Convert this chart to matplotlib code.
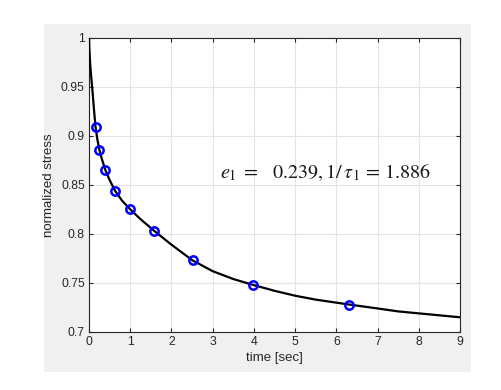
import numpy as np
import matplotlib
matplotlib.use("Agg")
import matplotlib.pyplot as plt
from matplotlib.patches import Rectangle

# measured points (log spaced times)
t_data = [0.158, 0.251, 0.398, 0.631, 1.0, 1.585, 2.512, 3.981, 6.310]
s_data = [0.909, 0.886, 0.865, 0.844, 0.825, 0.803, 0.773, 0.748, 0.728]

# fitted curve
t_fit = [0, 0.01, 0.03, 0.05, 0.08, 0.12, 0.158, 0.2, 0.251, 0.3, 0.398, 0.5,
         0.631, 0.8, 1.0, 1.25, 1.585, 2.0, 2.512, 3.0, 3.5, 3.981, 4.5, 5.0,
         5.5, 6.31, 7.0, 7.5, 8.0, 8.5, 9.0]
s_fit = [1.0, 0.988, 0.972, 0.962, 0.948, 0.927, 0.909, 0.897, 0.886, 0.878,
         0.865, 0.855, 0.844, 0.834, 0.825, 0.815, 0.803, 0.789, 0.773, 0.762,
         0.754, 0.748, 0.742, 0.737, 0.733, 0.728, 0.724, 0.721, 0.719, 0.717,
         0.715]

xticks = list(range(0, 10))
yticks = [0.7, 0.75, 0.8, 0.85, 0.9, 0.95, 1]
ytick_labels = ["0.7", "0.75", "0.8", "0.85", "0.9", "0.95", "1"]

plt.rcParams['font.family'] = ['Liberation Sans', 'DejaVu Sans']
plt.rcParams['mathtext.fontset'] = 'stix'
grey = '#262626'

fig = plt.figure(figsize=(5.01, 3.9), dpi=100)
fig.patch.set_facecolor('white')
# matlab style grey panel
fig.patches.append(Rectangle((44 / 501, 18 / 390), 427 / 501, 348 / 390,
                             transform=fig.transFigure, facecolor='#f0f0f0',
                             edgecolor='none', zorder=-10))

ax = fig.add_axes([89 / 501, 58 / 390, 371 / 501, 294.3 / 390])
ax.set_facecolor('white')
ax.plot(t_fit, s_fit, color='black', lw=1.6, zorder=3)
ax.plot(t_data, s_data, 'o', mfc='none', mec='#0000ff', mew=1.8, ms=6, zorder=4)

ax.set_xlim(0, 9)
ax.set_ylim(0.7, 1)
ax.set_xticks(xticks)
ax.set_yticks(yticks)
ax.set_yticklabels(ytick_labels)
ax.grid(True, color='#e3e3e3', lw=0.8)
ax.set_axisbelow(True)
ax.tick_params(direction='in', top=True, right=True, length=3, width=0.8,
               colors=grey, labelsize=8.8, pad=3)
for sp in ax.spines.values():
    sp.set_color(grey)
    sp.set_linewidth(0.8)

ax.set_xlabel('time [sec]', fontsize=9.5, color=grey, labelpad=3)
ax.set_ylabel('normalized stress', fontsize=9.5, color=grey, labelpad=4)

ax.text(3.17, 0.862, r'$e_1\;=\;\;\;0.239, 1/\,\tau_1\,=\,1.886$',
        fontsize=14.5, color='#1a1a1a', va='center', ha='left')

fig.savefig('out.png', dpi=100)
